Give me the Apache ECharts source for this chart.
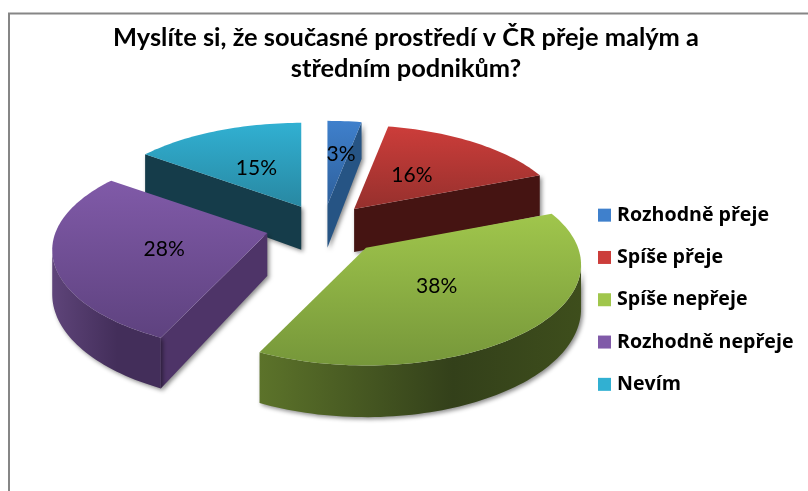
<!DOCTYPE html>
<html>
<head>
<meta charset="utf-8">
<style>
  html, body { margin: 0; padding: 0; background: #fff; }
  #chart { width: 808px; height: 491px; }
</style>
<script src="https://cdn.jsdelivr.net/npm/echarts@6/dist/echarts.min.js"></script>
</head>
<body>
<div id="chart"></div>
<script>
const categories = ['Rozhodně přeje', 'Spíše přeje', 'Spíše nepřeje', 'Rozhodně nepřeje', 'Nevím'];
const percents = [3, 16, 38, 28, 15];

const titleLines = ['Myslíte si, že současné prostředí v ČR přeje malým a', 'středním podnikům?'];

// top face gradient [far, near], side wall, rim gradient [left, middle, right]
const faceColors = [
  ['#3F80CC', '#2E609C'],
  ['#CC3D3A', '#96302D'],
  ['#A0C64C', '#76973A'],
  ['#805AA8', '#5E427F'],
  ['#31B0D2', '#2888A2']
];
const wallColors = ['#265484', '#451412', '#3A4A1B', '#4E3468', '#153C4A'];
const rimColors = [
  ['#265484', '#265484', '#265484'],
  ['#4A1614', '#451412', '#451412'],
  ['#5C732A', '#33401A', '#3E4E1C'],
  ['#5E4479', '#432E5A', '#432E5A'],
  ['#153C4A', '#153C4A', '#153C4A']
];
// paint order, far slices first
const paintOrder = [4, 0, 1, 3, 2];

const FONT = 'Lato, "Open Sans", sans-serif';
const CX = 323, CY = 226.5;    // pie centre before exploding
const RX = 212, RY = 98;       // disc radii
const PERSP = 0.168;           // near side of disc looks bigger
const DEPTH = 43;
const EXPLODE = 0.26;
const total = percents.reduce((a, b) => a + b, 0);

function spans() {
  let acc = 0;
  return percents.map((v) => {
    const a0 = acc / total * Math.PI * 2;
    acc += v;
    return [a0, acc / total * Math.PI * 2];
  });
}

// clockwise angle from 12 o'clock -> offset on screen + local depth scale
function project(theta) {
  const p = 1 / (1 + PERSP * Math.cos(theta));
  return { x: RX * Math.sin(theta) * p, y: -RY * Math.cos(theta) * p, d: DEPTH * p };
}

function sliceShapes(idx) {
  const [a0, a1] = spans()[idx];
  const m = project((a0 + a1) / 2);
  const ax = CX + EXPLODE * m.x;
  const ay = CY + EXPLODE * m.y;

  const arc = [];
  const steps = Math.max(6, Math.round((a1 - a0) * 40));
  for (let i = 0; i <= steps; i++) {
    const t = a0 + (a1 - a0) * i / steps;
    const q = project(t);
    arc.push({ x: ax + q.x, y: ay + q.y, d: q.d, front: Math.cos(t) <= -PERSP });
  }
  const wall = (q) => [[ax, ay], [q.x, q.y], [q.x, q.y + q.d], [ax, ay + DEPTH]];
  const front = arc.filter((q) => q.front);
  return {
    ax, ay, m,
    top: [[ax, ay]].concat(arc.map((q) => [q.x, q.y])),
    rim: front.map((q) => [q.x, q.y]).concat(front.slice().reverse().map((q) => [q.x, q.y + q.d])),
    // only the cut faces turned towards the viewer
    w0: Math.sin(a0) < -1e-6 ? wall(arc[0]) : null,
    w1: Math.sin(a1) > 1e-6 ? wall(arc[arc.length - 1]) : null
  };
}

const WALL_SHADOW = { shadowColor: 'rgba(0,0,0,0.45)', shadowBlur: 4, shadowOffsetX: 2, shadowOffsetY: 2 };
const LABEL_NUDGE = [[5, -9], [-2, 0], [-12, -2], [4, 3], [-3, -1]];

function renderSlice(idx, params, api) {
  const value = api.value(0);
  const s = sliceShapes(idx);
  const z = paintOrder.indexOf(idx) * 10;
  const faceFill = new echarts.graphic.LinearGradient(0, 0, 0, 1, [
    { offset: 0, color: faceColors[idx][0] },
    { offset: 1, color: faceColors[idx][1] }
  ]);
  const rimFill = new echarts.graphic.LinearGradient(0, 0, 1, 0, [
    { offset: 0, color: rimColors[idx][0] },
    { offset: 0.6, color: rimColors[idx][1] },
    { offset: 1, color: rimColors[idx][2] }
  ]);
  const poly = (points, style, extraZ) => ({
    type: 'polygon', z2: z + extraZ, silent: true,
    shape: { points }, style
  });
  const children = [];
  if (s.w0) children.push(poly(s.w0, Object.assign({ fill: wallColors[idx] }, WALL_SHADOW), 0));
  if (s.w1) children.push(poly(s.w1, Object.assign({ fill: wallColors[idx] }, WALL_SHADOW), 1));
  if (s.rim.length > 2) children.push(poly(s.rim, Object.assign({ fill: rimFill }, WALL_SHADOW), 2));
  children.push(poly(s.top, { fill: faceFill }, 3));
  children.push({
    type: 'text', z2: 100 + idx, silent: true,
    x: s.ax + s.m.x * 0.5 + LABEL_NUDGE[idx][0],
    y: s.ay + s.m.y * 0.5 + LABEL_NUDGE[idx][1],
    style: {
      text: value + '%', fill: '#000', font: '21px ' + FONT,
      align: 'center', verticalAlign: 'middle'
    }
  });
  return { type: 'group', children };
}

const chart = echarts.init(document.getElementById('chart'), null, { renderer: 'canvas' });
chart.setOption({
  animation: false,
  backgroundColor: '#fff',
  title: {
    text: titleLines.join('\n'),
    left: 401, top: 17, textAlign: 'center',
    textStyle: { fontFamily: FONT, fontSize: 25.4, fontWeight: 'bold', color: '#000', lineHeight: 31 }
  },
  legend: {
    orient: 'vertical', left: 593, top: 198,
    icon: 'rect', itemWidth: 13, itemHeight: 13, itemGap: 18,
    selectedMode: false,
    textStyle: { fontFamily: '"Open Sans", sans-serif', fontSize: 19.6, fontWeight: 'bold', color: '#000', lineHeight: 24.3, padding: [0, 0, 0, 1] },
    data: categories
  },
  graphic: [
    { type: 'line', shape: { x1: 8, y1: 13.5, x2: 808, y2: 13.5 }, style: { stroke: '#868686', lineWidth: 2 } },
    { type: 'line', shape: { x1: 9, y1: 13, x2: 9, y2: 491 }, style: { stroke: '#868686', lineWidth: 2 } }
  ],
  series: categories.map((name, idx) => ({
    type: 'custom',
    name,
    coordinateSystem: 'none',
    itemStyle: { color: faceColors[idx][0] },
    data: [[percents[idx]]],
    encode: { value: 0 },
    renderItem: (params, api) => renderSlice(idx, params, api)
  }))
});
</script>
</body>
</html>
